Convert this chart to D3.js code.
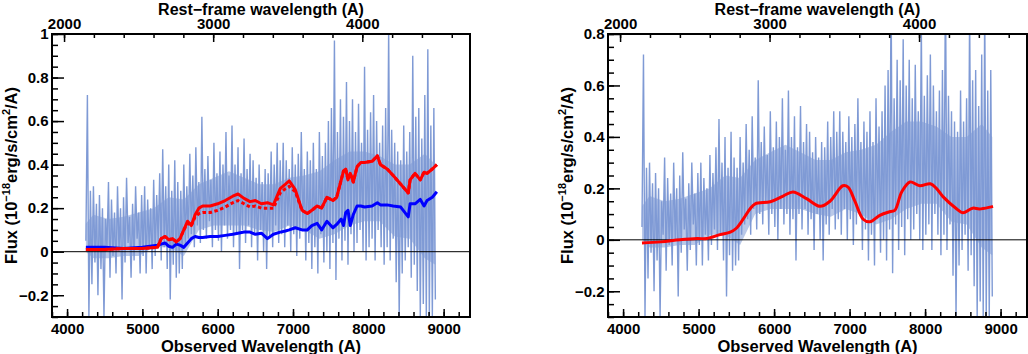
<!DOCTYPE html>
<html>
<head>
<meta charset="utf-8">
<script src="https://cdn.jsdelivr.net/npm/d3@7"></script>
<style>
    body { margin: 0; background: #fff; }
    text { font-family: "Liberation Sans", Arial, Helvetica, sans-serif; font-weight: bold; fill: #000; }
    .tick text { font-size: 15px; }
    .tick line { stroke-width: 1.5; }
    .title { font-size: 16.5px; }
    .title.top { font-size: 16px; }
</style>
</head>
<body>
<div id="viz-container"></div>
<script>
const specStart = 4250;
const specStep = 20;
const specFlux = [
    0.05, 0.72, -0.3, 0.28, -0.15, 0.3, -0.05, 0.22, -0.2, 0.26,
    -0.08, 0.2, -0.3, 0.15, 0.02, 0.32, -0.12, 0.24, -0.02, 0.18,
    -0.1, 0.3, 0.0, 0.2, -0.22, 0.25, -0.05, 0.34, 0.04, 0.16,
    -0.12, 0.22, -0.04, 0.3, 0.06, 0.18, -0.1, 0.26, -0.02, 0.3,
    -0.1, 0.24, 0.02, 0.2, -0.08, 0.33, -0.02, 0.26, 0.04, 0.36,
    -0.04, 0.47, 0.02, 0.3, -0.08, 0.4, -0.22, 0.28, -0.06, 0.42,
    -0.12, 0.32, -0.1, 0.28, -0.08, 0.4, 0.02, 0.3, 0.06, 0.45,
    0.08, 0.35, 0.02, 0.48, 0.12, 0.32, 0.04, 0.62, 0.1, 0.38,
    0.06, 0.44, 0.14, 0.33, 0.02, 0.5, 0.1, 0.36, 0.05, 0.46,
    0.0, 0.4, 0.12, 0.55, 0.06, 0.35, 0.1, 0.58, 0.02, 0.4,
    0.08, 0.48, -0.08, 0.36, 0.1, 0.52, 0.04, 0.38, 0.12, 0.45,
    0.02, 0.42, 0.08, 0.34, -0.04, 0.4, 0.1, 0.32, 0.0, 0.38,
    -0.08, 0.36, 0.06, 0.46, 0.02, 0.4, 0.12, 0.5, 0.04, 0.42,
    0.08, 0.5, 0.02, 0.42, 0.12, 0.38, 0.0, 0.48, 0.08, 0.4,
    -0.02, 0.45, 0.06, 0.55, 0.1, 0.38, -0.04, 0.46, 0.04, 0.42,
    -0.08, 0.5, 0.02, 0.38, -0.1, 0.55, 0.08, 0.44, -0.05, 0.5,
    0.0, 0.6, -0.08, 0.66, 0.04, 0.97, -0.13, 0.55, 0.06, 0.7,
    -0.04, 0.62, 0.05, 0.78, -0.06, 0.6, 0.08, 0.7, 0.0, 0.55,
    0.04, 0.68, 0.1, 0.5, 0.0, 0.85, -0.04, 0.56, 0.02, 0.64,
    0.06, 0.72, -0.04, 0.6, 0.1, 0.5, 0.02, 0.58, -0.06, 0.66,
    0.02, 1.02, -0.04, 0.56, 0.06, 0.5, -0.14, 0.46, -0.3, 0.42,
    -0.1, 0.58, -0.04, 0.46, 0.02, 0.55, -0.12, 0.9, -0.06, 0.62,
    -0.18, 0.66, -0.3, 0.52, -0.24, 0.72, -0.3, 0.93, -0.3, 0.58,
    -0.3, 0.66, -0.22
];
const specWave = specFlux.map((d, i) => specStart + i * specStep);

// dense core of the noisy spectrum (lower / upper edge)
const coreWave = [4250, 4350, 4550, 4750, 4950, 5150, 5350, 5550, 5750, 5950, 6150, 6350, 6550,
    6750, 6950, 7150, 7350, 7550, 7750, 7950, 8150, 8350, 8550, 8750, 8890];
const coreLow = [0.0, -0.03, -0.03, -0.02, -0.02, 0.02, 0.02, -0.02, 0.1, 0.12, 0.12, 0.12, 0.1,
    0.09, 0.12, 0.1, 0.06, 0.08, 0.12, 0.14, 0.14, 0.07, 0.06, -0.03, -0.06];
const coreHigh = [0.13, 0.17, 0.15, 0.16, 0.18, 0.2, 0.25, 0.24, 0.31, 0.34, 0.37, 0.34, 0.31,
    0.31, 0.34, 0.35, 0.37, 0.42, 0.46, 0.46, 0.44, 0.4, 0.4, 0.45, 0.4];

// left panel: model fits
const fitWave = [4250, 4500, 4750, 5000, 5200, 5250, 5300, 5350, 5400, 5450, 5500, 5550, 5600, 5650,
    5700, 5750, 5800, 5900, 6000, 6100, 6200, 6270, 6350, 6430, 6500, 6580, 6660, 6740, 6830, 6900,
    6950, 7030, 7120, 7190, 7250, 7320, 7380, 7450, 7530, 7580, 7640, 7670, 7700, 7730, 7760, 7800,
    7850, 7900, 7950, 8050, 8120, 8160, 8250, 8330, 8430, 8530, 8555, 8620, 8690, 8740, 8780, 8850, 8910];
const fitRed = [0.01, 0.01, 0.015, 0.015, 0.02, 0.06, 0.07, 0.055, 0.06, 0.045, 0.06, 0.1, 0.14, 0.12,
    0.17, 0.2, 0.21, 0.21, 0.22, 0.235, 0.255, 0.265, 0.245, 0.23, 0.235, 0.22, 0.225, 0.215, 0.29, 0.31,
    0.325, 0.285, 0.19, 0.175, 0.19, 0.21, 0.2, 0.25, 0.235, 0.25, 0.33, 0.37, 0.38, 0.33, 0.36, 0.32,
    0.39, 0.41, 0.41, 0.415, 0.44, 0.4, 0.38, 0.35, 0.31, 0.27, 0.33, 0.36, 0.33, 0.365, 0.36, 0.38, 0.4];
const fitRedDotted = [0.01, 0.01, 0.015, 0.015, 0.02, 0.06, 0.07, 0.055, 0.06, 0.045, 0.06, 0.1, 0.13, 0.12,
    0.16, 0.175, 0.18, 0.18, 0.19, 0.205, 0.225, 0.235, 0.22, 0.205, 0.21, 0.2, 0.2, 0.2, 0.27, 0.29,
    0.3, 0.275, 0.19, 0.175, 0.19, 0.21, 0.2, 0.25, 0.235, 0.25, 0.33, 0.37, 0.38, 0.33, 0.36, 0.32,
    0.39, 0.41, 0.41, 0.415, 0.44, 0.4, 0.38, 0.35, 0.31, 0.27, 0.33, 0.36, 0.33, 0.365, 0.36, 0.38, 0.4];
const fitBlue = [0.02, 0.02, 0.015, 0.02, 0.03, 0.035, 0.04, 0.025, 0.02, 0.035, 0.03, 0.02, 0.04, 0.06,
    0.07, 0.065, 0.065, 0.07, 0.07, 0.075, 0.08, 0.085, 0.09, 0.09, 0.08, 0.085, 0.06, 0.08, 0.09, 0.095,
    0.1, 0.11, 0.1, 0.1, 0.12, 0.13, 0.1, 0.14, 0.11, 0.125, 0.15, 0.12, 0.18, 0.19, 0.12, 0.17,
    0.21, 0.21, 0.205, 0.21, 0.225, 0.215, 0.215, 0.21, 0.205, 0.16, 0.22, 0.22, 0.24, 0.21, 0.235, 0.25, 0.275];

// right panel: smoothed spectrum
const smoothWave = [4250, 4500, 4750, 4980, 5110, 5285, 5420, 5500, 5590, 5680, 5750, 5950, 6120, 6250,
    6430, 6610, 6740, 6910, 6980, 7070, 7180, 7270, 7400, 7540, 7600, 7690, 7800, 7930, 8070, 8150,
    8240, 8420, 8500, 8630, 8720, 8860, 8900];
const smoothRed = [-0.012, -0.008, 0.0, 0.005, 0.005, 0.02, 0.03, 0.045, 0.08, 0.12, 0.14, 0.148, 0.17, 0.186,
    0.16, 0.13, 0.15, 0.21, 0.205, 0.15, 0.08, 0.07, 0.095, 0.11, 0.115, 0.186, 0.225, 0.21, 0.218, 0.2,
    0.167, 0.12, 0.105, 0.123, 0.12, 0.127, 0.13];

// axes
const obsDomain = [3800, 9350];
const onePlusZ = 1.98;
const obsMajor = [4000, 5000, 6000, 7000, 8000, 9000];
const restMajor = [2000, 3000, 4000];
const yMajorLeft = [-0.2, 0, 0.2, 0.4, 0.6, 0.8, 1];
const yMajorRight = [-0.2, 0, 0.2, 0.4, 0.6, 0.8];

const width = 1028, height = 354;
const svg = d3.select("#viz-container")
    .append("svg")
    .attr("width", width)
    .attr("height", height);

const specColor = "#7f9ad5";

function drawPanel(p) {
    const g = svg.append("g");
    const x = d3.scaleLinear().domain(obsDomain).range([p.x0, p.x1]);
    const xRest = d3.scaleLinear().domain(obsDomain.map(d => d / onePlusZ)).range([p.x0, p.x1]);
    const y = d3.scaleLinear().domain(p.yDomain).range([p.y1, p.y0]);

    g.append("clipPath").attr("id", p.id)
        .append("rect")
        .attr("x", p.x0).attr("y", p.y0)
        .attr("width", p.x1 - p.x0).attr("height", p.y1 - p.y0);

    const plot = g.append("g").attr("clip-path", `url(#${p.id})`);

    // noisy spectrum: dense core + spikes
    plot.append("path")
        .datum(coreLow)
        .attr("fill", specColor)
        .attr("fill-opacity", 0.55)
        .attr("d", d3.area()
            .x((d, i) => x(coreWave[i]))
            .y0(d => y(d))
            .y1((d, i) => y(coreHigh[i])));

    plot.append("path")
        .datum(specFlux)
        .attr("fill", "none")
        .attr("stroke", specColor)
        .attr("stroke-width", 1.4)
        .attr("stroke-linejoin", "miter")
        .attr("d", d3.line().x((d, i) => x(specWave[i])).y(d => y(d)));

    // zero line
    plot.append("line")
        .attr("x1", p.x0).attr("x2", p.x1)
        .attr("y1", y(0)).attr("y2", y(0))
        .attr("stroke", "#000").attr("stroke-width", 1);

    p.series.forEach(s => {
        plot.append("path")
            .datum(s.values)
            .attr("fill", "none")
            .attr("stroke", s.color)
            .attr("stroke-width", 3)
            .attr("stroke-dasharray", s.dash || null)
            .attr("stroke-linejoin", "round")
            .attr("d", d3.line().curve(s.curve || d3.curveLinear)
                .x((d, i) => x(s.wave[i])).y(d => y(d)));
    });

    // bottom axis (ticks point inward)
    g.append("g").attr("transform", `translate(0,${p.y1})`)
        .call(d3.axisBottom(x).tickValues(d3.range(3800, 9351, 200)).tickSize(-5).tickFormat(""))
        .call(a => a.select(".domain").remove());
    g.append("g").attr("transform", `translate(0,${p.y1})`)
        .call(d3.axisBottom(x).tickValues(obsMajor).tickSize(-8).tickPadding(6).tickFormat(d3.format("d")))
        .call(a => a.select(".domain").remove());

    // top axis, rest-frame
    g.append("g").attr("transform", `translate(0,${p.y0})`)
        .call(d3.axisTop(xRest).tickValues(d3.range(2000, 4700, 200)).tickSize(-4).tickFormat(""))
        .call(a => a.select(".domain").remove());
    g.append("g").attr("transform", `translate(0,${p.y0})`)
        .call(d3.axisTop(xRest).tickValues(restMajor).tickSize(-8).tickPadding(5.5).tickFormat(d3.format("d")))
        .call(a => a.select(".domain").remove());

    // left axis
    const yMinor = d3.range(Math.round(p.yDomain[0] * 20), Math.round(p.yDomain[1] * 20) + 1).map(i => i / 20);
    g.append("g").attr("transform", `translate(${p.x0},0)`)
        .call(d3.axisLeft(y).tickValues(yMinor).tickSize(-6).tickFormat(""))
        .call(a => a.select(".domain").remove());
    g.append("g").attr("transform", `translate(${p.x0},0)`)
        .call(d3.axisLeft(y).tickValues(p.yMajor).tickSize(-12).tickPadding(3.5).tickFormat(d3.format("~g")))
        .call(a => a.select(".domain").remove());

    g.selectAll("g").attr("font-family", null).attr("font-size", null);

    // frame
    g.append("rect")
        .attr("x", p.x0).attr("y", p.y0)
        .attr("width", p.x1 - p.x0).attr("height", p.y1 - p.y0)
        .attr("fill", "none").attr("stroke", "#000").attr("stroke-width", 2);

    // titles
    const cx = (p.x0 + p.x1) / 2;
    g.append("text").attr("class", "title top")
        .attr("x", cx).attr("y", 14.5).attr("text-anchor", "middle")
        .text("Rest\u2212frame wavelength (A)");
    g.append("text").attr("class", "title")
        .attr("x", cx).attr("y", 352).attr("text-anchor", "middle")
        .text("Observed Wavelength (A)");

    const yt = g.append("text").attr("class", "title")
        .attr("text-anchor", "middle")
        .attr("transform", `translate(${p.x0 - 35.5},${(p.y0 + p.y1) / 2}) rotate(-90)`);
    yt.append("tspan").text("Flux (10");
    yt.append("tspan").attr("dy", -7).attr("font-size", "11px").text("\u221218");
    yt.append("tspan").attr("dy", 7).text("erg/s/cm");
    yt.append("tspan").attr("dy", -7).attr("font-size", "11px").text("2");
    yt.append("tspan").attr("dy", 7).text("/A)");
}

drawPanel({
    id: "clip-left", x0: 52, x1: 470, y0: 34, y1: 317,
    yDomain: [-0.3, 1], yMajor: yMajorLeft,
    series: [
        { wave: fitWave, values: fitBlue, color: "#0000ff" },
        { wave: fitWave, values: fitRedDotted, color: "#ff0000", dash: "3.5,2.5" },
        { wave: fitWave, values: fitRed, color: "#ff0000" }
    ]
});

drawPanel({
    id: "clip-right", x0: 608, x1: 1027, y0: 34, y1: 317,
    yDomain: [-0.3, 0.8], yMajor: yMajorRight,
    series: [
        { wave: smoothWave, values: smoothRed, color: "#ff0000", curve: d3.curveCatmullRom.alpha(0.5) }
    ]
});
</script>
</body>
</html>
